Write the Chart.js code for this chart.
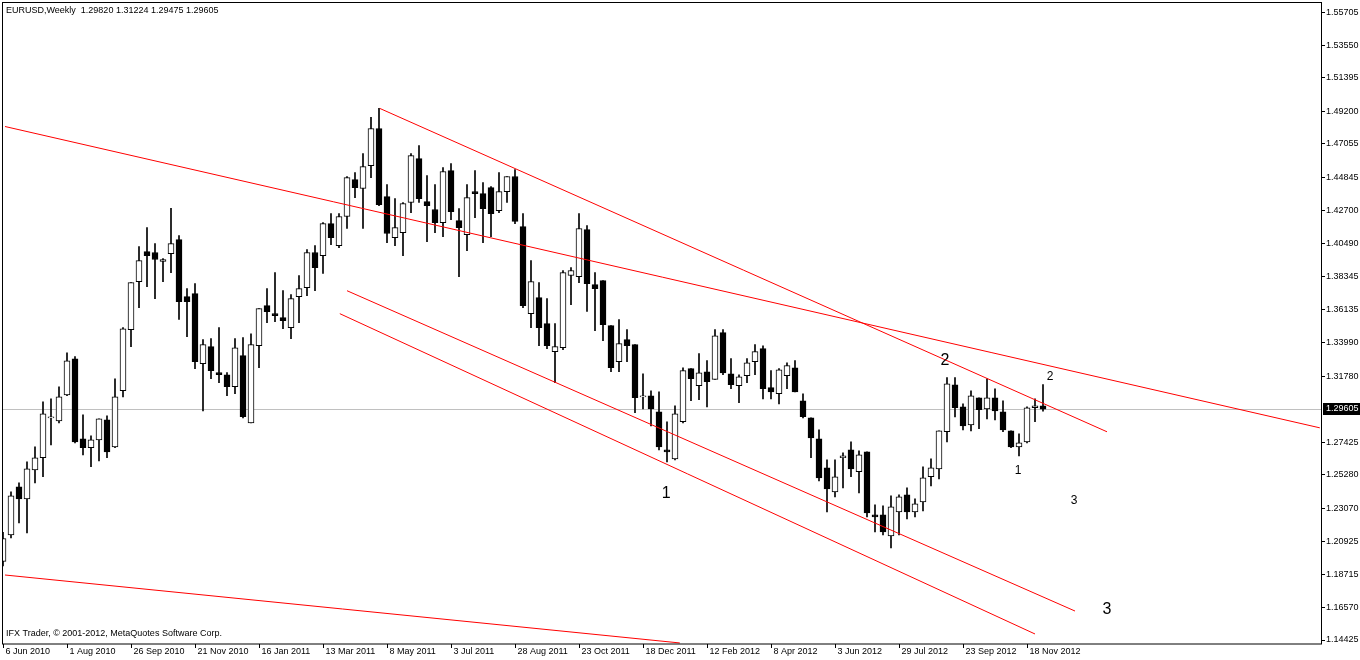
<!DOCTYPE html>
<html>
<head>
<meta charset="utf-8">
<script src="https://cdn.jsdelivr.net/npm/chart.js@4.4.1/dist/chart.umd.min.js"></script>
<style>
  html, body { margin: 0; padding: 0; background: #fff; }
  #wrap { width: 1360px; height: 660px; }
</style>
</head>
<body>
<div id="wrap"><canvas id="c" width="1360" height="660"></canvas></div>
<script>
// weekly EURUSD candles, one per week from 6 Jun 2010
const opens = [1.1960,1.2134,1.2450,1.2371,1.2562,1.2641,1.2903,1.2884,1.3055,1.3292,1.2766,1.2707,1.2759,1.2891,1.2713,1.3082,1.3484,1.3800,1.3997,1.3991,1.3932,1.3984,1.4076,1.3701,1.3721,1.3260,1.3372,1.3201,1.3187,1.3108,1.3313,1.2871,1.3378,1.3642,1.3589,1.3563,1.3497,1.3701,1.3760,1.3991,1.3971,1.4181,1.4037,1.4228,1.4471,1.4412,1.4563,1.4807,1.4359,1.4089,1.4122,1.4320,1.4609,1.4326,1.4274,1.4188,1.4530,1.4201,1.4109,1.4392,1.4379,1.4418,1.4267,1.4392,1.4491,1.4162,1.3589,1.3694,1.3523,1.3339,1.3365,1.3840,1.3833,1.4142,1.3780,1.3806,1.3510,1.3273,1.3418,1.3385,1.3042,1.3049,1.2943,1.2693,1.2634,1.2878,1.3227,1.3115,1.3207,1.3157,1.3464,1.3194,1.3115,1.3181,1.3273,1.3359,1.3102,1.3062,1.3181,1.3233,1.3016,1.2904,1.2766,1.2575,1.2417,1.2641,1.2694,1.2549,1.2680,1.2265,1.2265,1.2127,1.2285,1.2397,1.2285,1.2351,1.2516,1.2568,1.2812,1.3121,1.2976,1.2858,1.3036,1.2963,1.3036,1.2943,1.2819,1.2713,1.2746,1.2970,1.29820];
const highs = [1.2150,1.2417,1.2476,1.2614,1.2713,1.3009,1.3029,1.3108,1.3332,1.3306,1.2924,1.2785,1.2897,1.2917,1.3161,1.3497,1.3793,1.4030,1.4155,1.4050,1.3951,1.4281,1.4103,1.3754,1.3787,1.3418,1.3425,1.3497,1.3201,1.3425,1.3431,1.3457,1.3622,1.3754,1.3859,1.3741,1.3714,1.3840,1.4010,1.4037,1.4188,1.4247,1.4247,1.4491,1.4517,1.4642,1.4880,1.4939,1.4438,1.4346,1.4320,1.4642,1.4695,1.4498,1.4438,1.4550,1.4576,1.4280,1.4438,1.4530,1.4451,1.4425,1.4517,1.4491,1.4537,1.4247,1.3938,1.3793,1.3688,1.3523,1.3873,1.3892,1.4247,1.4168,1.3859,1.3806,1.3510,1.3550,1.3484,1.3385,1.3194,1.3082,1.3075,1.2878,1.2983,1.3233,1.3227,1.3326,1.3280,1.3484,1.3484,1.3293,1.3187,1.3293,1.3385,1.3378,1.3214,1.3227,1.3266,1.3280,1.3062,1.2904,1.2825,1.2627,1.2627,1.2674,1.2746,1.2687,1.2680,1.2331,1.2325,1.2390,1.2397,1.2443,1.2371,1.2581,1.2634,1.2819,1.3168,1.3168,1.2996,1.3082,1.3036,1.3161,1.3095,1.3016,1.2819,1.2799,1.2976,1.3029,1.31224];
const lows = [1.1930,1.2114,1.2213,1.2147,1.2476,1.2516,1.2726,1.2871,1.3049,1.2739,1.2660,1.2582,1.2621,1.2641,1.2707,1.3042,1.3372,1.3629,1.3767,1.3688,1.3800,1.3859,1.3551,1.3437,1.3227,1.2950,1.3161,1.3135,1.3049,1.3062,1.2904,1.2871,1.3233,1.3530,1.3536,1.3490,1.3425,1.3530,1.3708,1.3741,1.3853,1.4043,1.4023,1.4149,1.4352,1.4149,1.4484,1.4300,1.4056,1.4037,1.3971,1.4254,1.4320,1.4063,1.4122,1.4096,1.4208,1.3833,1.4004,1.4221,1.4056,1.4096,1.4254,1.4320,1.4181,1.3629,1.3497,1.3378,1.3359,1.3135,1.3352,1.3648,1.3793,1.3603,1.3477,1.3411,1.3207,1.3207,1.3273,1.2937,1.2963,1.2851,1.2693,1.2614,1.2627,1.2871,1.3016,1.3023,1.2976,1.3157,1.3187,1.3095,1.3003,1.3135,1.3187,1.3029,1.3029,1.2996,1.3095,1.3075,1.2904,1.2641,1.2489,1.2285,1.2384,1.2443,1.2516,1.2410,1.2252,1.2153,1.2134,1.2048,1.2134,1.2239,1.2252,1.2292,1.2456,1.2502,1.2746,1.2910,1.2825,1.2818,1.2832,1.2897,1.2890,1.2812,1.2707,1.2654,1.2739,1.2878,1.29475];
const closes = [1.2110,1.2391,1.2371,1.2568,1.2641,1.2930,1.2910,1.3042,1.3279,1.2746,1.2707,1.2759,1.2897,1.2680,1.3042,1.3490,1.3793,1.3938,1.3971,1.3945,1.3945,1.4050,1.3668,1.3668,1.3273,1.3385,1.3214,1.3187,1.3108,1.3365,1.2911,1.3385,1.3622,1.3602,1.3576,1.3543,1.3688,1.3754,1.3991,1.3892,1.4181,1.4089,1.4228,1.4484,1.4418,1.4556,1.4807,1.4306,1.4116,1.4155,1.4313,1.4629,1.4346,1.4300,1.4188,1.4524,1.4260,1.4155,1.4352,1.4379,1.4280,1.4247,1.4392,1.4491,1.4195,1.3642,1.3800,1.3497,1.3378,1.3372,1.3859,1.3873,1.4149,1.3787,1.3754,1.3517,1.3233,1.3392,1.3378,1.3036,1.3042,1.2963,1.2713,1.2680,1.2930,1.3214,1.3161,1.3200,1.3141,1.3444,1.3200,1.3122,1.3174,1.3266,1.3339,1.3095,1.3075,1.3220,1.3247,1.3075,1.2911,1.2772,1.2509,1.2437,1.2516,1.2654,1.2568,1.2661,1.2278,1.2252,1.2153,1.2318,1.2384,1.2285,1.2338,1.2509,1.2575,1.2819,1.3128,1.2970,1.2851,1.3049,1.2957,1.3036,1.2950,1.2825,1.2713,1.2739,1.2970,1.2983,1.29605];

// bottom axis: a date every 8 weeks
const dateLabels = ['6 Jun 2010','1 Aug 2010','26 Sep 2010','21 Nov 2010','16 Jan 2011','13 Mar 2011','8 May 2011','3 Jul 2011','28 Aug 2011','23 Oct 2011','18 Dec 2011','12 Feb 2012','8 Apr 2012','3 Jun 2012','29 Jul 2012','23 Sep 2012','18 Nov 2012'];
const priceTicks = [1.55705,1.53550,1.51395,1.49200,1.47055,1.44845,1.42700,1.40490,1.38345,1.36135,1.33990,1.31780,1.27425,1.25280,1.23070,1.20925,1.18715,1.16570,1.14425];
const lastPrice = 1.29605;

// trend lines: [startWeek, startPrice, endWeek, endPrice]
const trendLines = [
  [0.25, 1.4820, 164.6, 1.2838],
  [47.1, 1.4939, 138.0, 1.2812],
  [43.0, 1.3740, 134.0, 1.1633],
  [42.1, 1.3589, 129.0, 1.1482],
  [0.25, 1.1870, 84.6, 1.1423]
];
// wave labels: [text, week, price, big]
const waveLabels = [
  ['1', 82.9, 1.2404, true],
  ['2', 117.75, 1.3279, true],
  ['1', 126.9, 1.2555, false],
  ['2', 130.9, 1.3174, false],
  ['3', 133.9, 1.2358, false],
  ['3', 138.0, 1.1640, true]
];

const FONT = '"Liberation Sans"';

const wickData = opens.map((o, i) => ({ x: i, y: [lows[i], highs[i]] }));
const bodyData = opens.map((o, i) => ({ x: i, y: [Math.min(o, closes[i]), Math.max(o, closes[i])] }));
const bodyFill = opens.map((o, i) => closes[i] >= o ? '#ffffff' : '#000000');

const lineSets = trendLines.map(t => ({
  type: 'line',
  data: [{ x: t[0], y: t[1] }, { x: t[2], y: t[3] }],
  borderColor: '#ff0000',
  borderWidth: 1,
  pointRadius: 0,
  order: 0
}));

const overlay = {
  id: 'overlay',
  beforeDatasetsDraw(chart) {
    const { ctx, chartArea: a, scales: { y } } = chart;
    ctx.save();
    const yy = Math.round(y.getPixelForValue(lastPrice)) + 0.5;
    ctx.strokeStyle = '#c0c0c0';
    ctx.lineWidth = 1;
    ctx.beginPath(); ctx.moveTo(a.left, yy); ctx.lineTo(a.right, yy); ctx.stroke();
    ctx.restore();
  },
  afterDraw(chart) {
    const { ctx, chartArea: a, scales: { x, y } } = chart;
    ctx.save();
    // frame (drawn from the very top, as in the terminal)
    ctx.strokeStyle = '#000';
    ctx.lineWidth = 1;
    ctx.strokeRect(a.left + 0.5, 2.5, a.right - a.left - 1, a.bottom - 2.5);
    ctx.font = '9px ' + FONT;
    ctx.fillStyle = '#000';
    ctx.textBaseline = 'middle';
    // bottom dates
    dateLabels.forEach((d, k) => {
      const px = Math.round(x.getPixelForValue(k * 8)) + 0.5;
      ctx.beginPath(); ctx.moveTo(px, a.bottom); ctx.lineTo(px, a.bottom + 4); ctx.stroke();
      ctx.fillText(d, px + 2, a.bottom + 8);
    });
    // current price box
    const py = Math.round(y.getPixelForValue(lastPrice));
    ctx.fillRect(a.right + 1, py - 6, 37, 12);
    ctx.fillStyle = '#fff';
    ctx.fillText(lastPrice.toFixed(5), a.right + 4, py);
    // header and copyright
    ctx.fillStyle = '#000';
    ctx.fillText('EURUSD,Weekly  1.29820 1.31224 1.29475 1.29605', a.left + 4, 11);
    ctx.fillText('IFX Trader, \u00a9 2001-2012, MetaQuotes Software Corp.', a.left + 4, 634);
    // wave labels
    ctx.textAlign = 'center';
    waveLabels.forEach(w => {
      ctx.font = (w[3] ? '16px ' : '12px ') + FONT;
      ctx.fillText(w[0], x.getPixelForValue(w[1]), y.getPixelForValue(w[2]));
    });
    ctx.restore();
  }
};

new Chart(document.getElementById('c'), {
  type: 'bar',
  data: {
    datasets: [
      ...lineSets,
      {
        data: wickData,
        backgroundColor: '#000',
        barThickness: 1,
        grouped: false,
        order: 2
      },
      {
        data: bodyData,
        backgroundColor: bodyFill,
        borderColor: '#000',
        borderWidth: 1,
        borderSkipped: false,
        barThickness: 6,
        minBarLength: 1,
        grouped: false,
        order: 1
      }
    ]
  },
  options: {
    responsive: false,
    animation: false,
    layout: { padding: { left: 2, top: 2 } },
    plugins: { legend: { display: false }, tooltip: { enabled: false } },
    scales: {
      x: {
        type: 'linear',
        offset: false,
        min: -0.125,
        max: 164.875,
        grid: { display: false, offset: false },
        border: { display: false },
        ticks: { display: false },
        afterFit(s) { s.height = 16; }
      },
      y: {
        position: 'right',
        min: 1.14162,
        max: 1.56100,
        grid: { drawOnChartArea: false, tickLength: 3, color: '#000' },
        border: { display: false },
        afterBuildTicks(s) { s.ticks = priceTicks.map(v => ({ value: v })); },
        afterFit(s) { s.width = 38; },
        ticks: {
          color: '#000',
          padding: 1,
          font: { family: 'Liberation Sans', size: 9 },
          callback: v => v.toFixed(5)
        }
      }
    }
  },
  plugins: [overlay]
});
</script>
</body>
</html>
